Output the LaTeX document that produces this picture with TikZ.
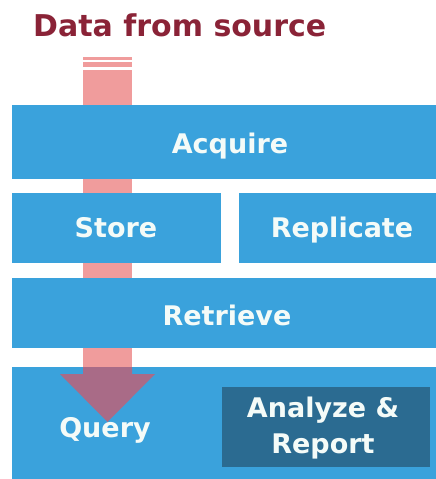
\documentclass[tikz,border=0pt]{standalone}
\usepackage{fontspec}
\setmainfont{DejaVu Sans}
\definecolor{boxblue}{HTML}{3AA2DC}
\definecolor{darkbox}{HTML}{2B6B91}
\definecolor{titlered}{HTML}{8A2337}
\definecolor{flowpink}{HTML}{F09C9C}
\definecolor{headmauve}{HTML}{A96B87}
\definecolor{labelwhite}{HTML}{F4FBF8}
\begin{document}
\begin{tikzpicture}[x=1pt,y=-1pt,
  blk/.style={fill=boxblue, draw=none, inner sep=0pt, outer sep=0pt, anchor=north west},
  lbl/.style={text=labelwhite, font=\bfseries\fontsize{27}{32}\selectfont, inner sep=0pt, anchor=base}]
\useasboundingbox (0,0) rectangle (436,479);
\fill[white] (0,0) rectangle (436,479);

% title
\node[anchor=base west, inner sep=0pt, text=titlered,
      font=\bfseries\fontsize{30}{36}\selectfont] (title) at (33,36) {Data from source};

% flow bar (behind boxes)
\coordinate (src) at (107.5,57);
\coordinate (tip) at (107.5,422);
\fill[flowpink] ([xshift=-24.5pt]src) rectangle ([xshift=24.5pt,yshift=-3pt]src);
\fill[flowpink] ([xshift=-24.5pt,yshift=-5pt]src) rectangle ([xshift=24.5pt,yshift=-10pt]src);
\fill[flowpink] ([xshift=-24.5pt,yshift=-13pt]src) rectangle (132,367);

% boxes
\node[blk, minimum width=424pt, minimum height=74pt] (acq) at (12,105) {};
\node[blk, minimum width=209pt, minimum height=70pt] (store) at (12,193) {};
\node[blk, minimum width=197pt, minimum height=70pt] (repl) at (239,193) {};
\node[blk, minimum width=424pt, minimum height=70pt] (retr) at (12,278) {};
\node[blk, minimum width=424pt, minimum height=112pt] (query) at (12,367) {};
\node[blk, fill=darkbox, minimum width=208pt, minimum height=80pt] (anl) at (222,387) {};

% arrow head over the query box
\fill[headmauve] (83,367) -- (132,367) -- (132,374) -- (155,374) -- (tip)
  -- (60,374) -- (83,374) -- cycle;

% labels
\node[lbl] (tacq) at (230,153) {Acquire};
\node[lbl] (tstore) at (116,237) {Store};
\node[lbl] (trepl) at (342,237) {Replicate};
\node[lbl] (tretr) at (227,325) {Retrieve};
\node[lbl] (tquery) at (105,437) {Query};
\node[lbl] (tanl) at (323,417) {Analyze \&};
\node[lbl] (trep) at (323,453) {Report};
\end{tikzpicture}
\end{document}
